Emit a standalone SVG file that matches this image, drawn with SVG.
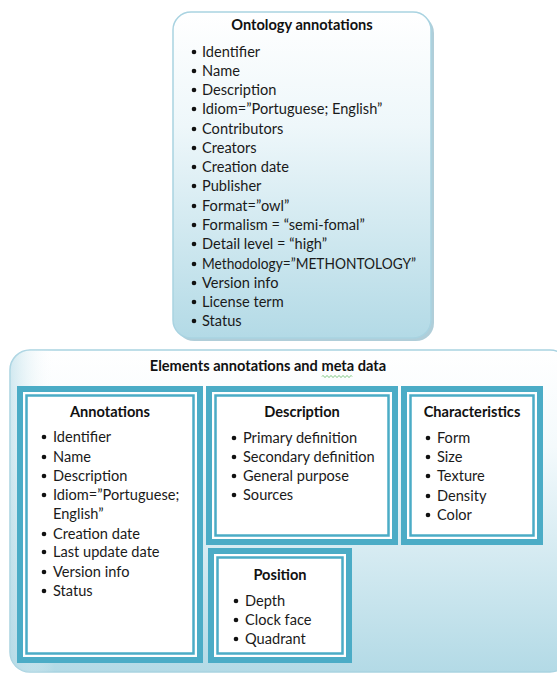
<svg xmlns="http://www.w3.org/2000/svg" width="557" height="675" viewBox="0 0 557 675">
<defs>
<linearGradient id="gTop" x1="0" y1="0" x2="0" y2="1">
<stop offset="0" stop-color="#ffffff"/>
<stop offset="0.35" stop-color="#eef7fa"/>
<stop offset="1" stop-color="#b3dae6"/>
</linearGradient>
<linearGradient id="gBig" x1="0" y1="0" x2="0" y2="1">
<stop offset="0" stop-color="#ffffff"/>
<stop offset="0.3" stop-color="#f4fafc"/>
<stop offset="1" stop-color="#b3dae6"/>
</linearGradient>
<linearGradient id="gBigH" x1="0" y1="0" x2="1" y2="0">
<stop offset="0" stop-color="#b3dae6" stop-opacity="0.6"/>
<stop offset="0.08" stop-color="#ffffff" stop-opacity="0"/>
<stop offset="1" stop-color="#ffffff" stop-opacity="0"/>
</linearGradient>
</defs>
<style>
.t{font-family:Lato,"Liberation Sans",sans-serif;font-size:14.6px;fill:#1a1a1a}
.h{font-family:Lato,"Liberation Sans",sans-serif;font-size:14.6px;font-weight:bold;fill:#111;text-anchor:middle}
.b{fill:#111}
.frame{fill:#4bacc6}
.gap{fill:#ffffff}
.inner{fill:#ffffff;stroke:#4bacc6;stroke-width:2.5}
</style>

<g id="ontology">
<rect x="176" y="15" width="258" height="326" rx="18" fill="#8fb9c9" opacity="0.7"/>
<rect x="173" y="12" width="258" height="326" rx="18" fill="url(#gTop)" stroke="#a9d3e1" stroke-width="1.5"/>
<text class="h" x="302" y="30">Ontology annotations</text>
<g class="b">
<circle cx="194" cy="52" r="2.3"/><circle cx="194" cy="71" r="2.3"/><circle cx="194" cy="90" r="2.3"/><circle cx="194" cy="109" r="2.3"/><circle cx="194" cy="129" r="2.3"/><circle cx="194" cy="148" r="2.3"/><circle cx="194" cy="167" r="2.3"/><circle cx="194" cy="186" r="2.3"/><circle cx="194" cy="206" r="2.3"/><circle cx="194" cy="225" r="2.3"/><circle cx="194" cy="244" r="2.3"/><circle cx="194" cy="264" r="2.3"/><circle cx="194" cy="283" r="2.3"/><circle cx="194" cy="302" r="2.3"/><circle cx="194" cy="321" r="2.3"/>
</g>
<text class="t" x="202" y="57">Identifier</text>
<text class="t" x="202" y="76">Name</text>
<text class="t" x="202" y="95">Description</text>
<text class="t" x="202" y="114">Idiom=”Portuguese; English”</text>
<text class="t" x="202" y="134">Contributors</text>
<text class="t" x="202" y="153">Creators</text>
<text class="t" x="202" y="172">Creation date</text>
<text class="t" x="202" y="191">Publisher</text>
<text class="t" x="202" y="211">Format=”owl”</text>
<text class="t" x="202" y="230">Formalism = “semi-fomal”</text>
<text class="t" x="202" y="249">Detail level = “high”</text>
<text class="t" x="202" y="269" textLength="214" lengthAdjust="spacingAndGlyphs">Methodology=”METHONTOLOGY”</text>
<text class="t" x="202" y="288">Version info</text>
<text class="t" x="202" y="307">License term</text>
<text class="t" x="202" y="326">Status</text>
</g>

<g id="elements">
<rect x="10" y="350" width="560" height="322" rx="20" fill="url(#gBig)" stroke="#a9d3e1" stroke-width="1.5"/>
<rect x="10" y="350" width="560" height="322" rx="20" fill="url(#gBigH)"/>
<text class="h" x="268" y="371">Elements annotations and meta data</text>
<path d="M322 376.5 q1 -2 2 0 t2 0 t2 0 t2 0 t2 0 t2 0 t2 0 t2 0 t2 0 t2 0 t2 0 t2 0 t2 0 t2 0 t2 0" fill="none" stroke="#4caf50" stroke-width="0.8"/>
</g>

<g id="annotations">
<rect class="frame" x="17" y="386" width="186" height="277"/>
<rect class="gap" x="23" y="392" width="174" height="265"/>
<rect class="inner" x="26.5" y="395.5" width="167" height="258"/>
<text class="h" x="110" y="417">Annotations</text>
<g class="b">
<circle cx="44" cy="437" r="2.3"/><circle cx="44" cy="457" r="2.3"/><circle cx="44" cy="476" r="2.3"/><circle cx="44" cy="495" r="2.3"/><circle cx="44" cy="534" r="2.3"/><circle cx="44" cy="552" r="2.3"/><circle cx="44" cy="572" r="2.3"/><circle cx="44" cy="591" r="2.3"/>
</g>
<text class="t" x="53" y="442">Identifier</text>
<text class="t" x="53" y="462">Name</text>
<text class="t" x="53" y="481">Description</text>
<text class="t" x="53" y="500">Idiom=”Portuguese;</text>
<text class="t" x="53" y="519">English”</text>
<text class="t" x="53" y="539">Creation date</text>
<text class="t" x="53" y="557">Last update date</text>
<text class="t" x="53" y="577">Version info</text>
<text class="t" x="53" y="596">Status</text>
</g>

<g id="description">
<rect class="frame" x="206" y="386" width="192" height="159"/>
<rect class="gap" x="212" y="392" width="180" height="147"/>
<rect class="inner" x="215.5" y="395.5" width="173" height="140"/>
<text class="h" x="302" y="417">Description</text>
<g class="b">
<circle cx="234" cy="438" r="2.3"/><circle cx="234" cy="457" r="2.3"/><circle cx="234" cy="476" r="2.3"/><circle cx="234" cy="495" r="2.3"/>
</g>
<text class="t" x="243" y="443">Primary definition</text>
<text class="t" x="243" y="462">Secondary definition</text>
<text class="t" x="243" y="481">General purpose</text>
<text class="t" x="243" y="500">Sources</text>
</g>

<g id="characteristics">
<rect class="frame" x="401" y="386" width="142" height="159"/>
<rect class="gap" x="407" y="392" width="130" height="147"/>
<rect class="inner" x="410.5" y="395.5" width="123" height="140"/>
<text class="h" x="472" y="417">Characteristics</text>
<g class="b">
<circle cx="428" cy="438" r="2.3"/><circle cx="428" cy="457" r="2.3"/><circle cx="428" cy="476" r="2.3"/><circle cx="428" cy="496" r="2.3"/><circle cx="428" cy="515" r="2.3"/>
</g>
<text class="t" x="437" y="443">Form</text>
<text class="t" x="437" y="462">Size</text>
<text class="t" x="437" y="481">Texture</text>
<text class="t" x="437" y="501">Density</text>
<text class="t" x="437" y="520">Color</text>
</g>

<g id="position">
<rect class="frame" x="208" y="548" width="144" height="115"/>
<rect class="gap" x="214" y="554" width="132" height="103"/>
<rect class="inner" x="217.5" y="557.5" width="125" height="96"/>
<text class="h" x="280" y="580">Position</text>
<g class="b">
<circle cx="236" cy="601" r="2.3"/><circle cx="236" cy="620" r="2.3"/><circle cx="236" cy="639" r="2.3"/>
</g>
<text class="t" x="245" y="606">Depth</text>
<text class="t" x="245" y="625">Clock face</text>
<text class="t" x="245" y="644">Quadrant</text>
</g>

<g id="connectors"/>
</svg>
